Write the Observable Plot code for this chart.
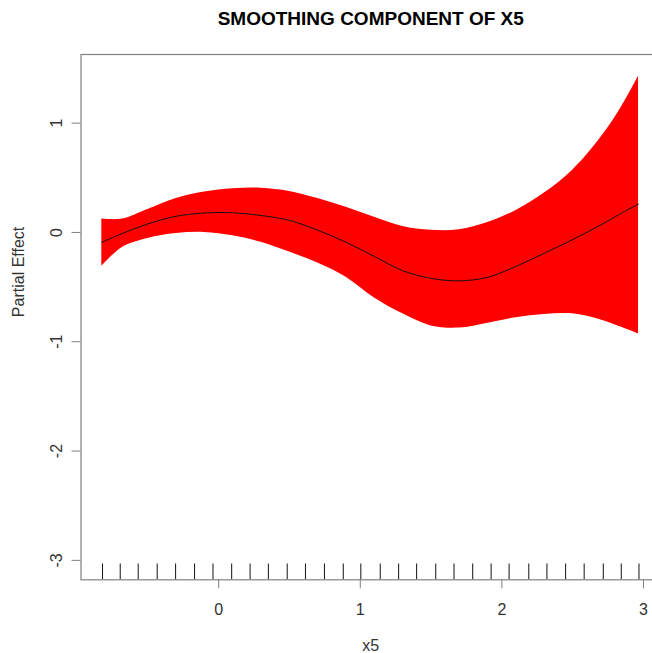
<!DOCTYPE html>
<html>
<head>
<meta charset="utf-8">
<script src="https://cdn.jsdelivr.net/npm/d3@7"></script>
<script src="https://cdn.jsdelivr.net/npm/@observablehq/plot@0.6"></script>
<style>
  html, body { margin: 0; padding: 0; background: white; overflow: hidden; }
  #chart { width: 652px; height: 653px; overflow: hidden; position: relative; }
  #chart svg { display: block; max-width: none !important; width: 660px !important; height: 653px !important; }
</style>
</head>
<body>
<div id="chart"></div>
<script>
const title = "SMOOTHING COMPONENT OF X5";
const xLabel = "x5";
const yLabel = "Partial Effect";

const xs    = [-0.825, -0.68, -0.5, -0.3, -0.1, 0.1, 0.3, 0.5, 0.7, 0.9, 1.1, 1.3, 1.5, 1.7, 1.9, 2.1, 2.3, 2.5, 2.7, 2.85, 2.965];
const fit   = [-0.09, -0.01, 0.078, 0.148, 0.178, 0.18, 0.155, 0.11, 0.02, -0.09, -0.22, -0.35, -0.42, -0.443, -0.41, -0.31, -0.19, -0.065, 0.07, 0.18, 0.26];
const upper = [0.122, 0.122, 0.21, 0.31, 0.37, 0.4, 0.405, 0.375, 0.31, 0.23, 0.14, 0.055, 0.02, 0.025, 0.09, 0.2, 0.36, 0.57, 0.87, 1.16, 1.43];
const lower = [-0.31, -0.137, -0.055, -0.01, 0.0, -0.03, -0.09, -0.18, -0.28, -0.41, -0.6, -0.745, -0.855, -0.875, -0.83, -0.78, -0.75, -0.745, -0.8, -0.87, -0.93];

const rug = [-0.820, -0.695, -0.568, -0.434, -0.304, -0.170, -0.040, 0.092, 0.222, 0.351, 0.484, 0.613, 0.747, 0.880, 1.004, 1.141, 1.271, 1.398, 1.533, 1.662, 1.794, 1.924, 2.051, 2.190, 2.318, 2.450, 2.581, 2.716, 2.843, 2.968];

const xTicks = [0, 1, 2, 3];
const yTicks = [-3, -2, -1, 0, 1];
const xDomain = [-0.972, 3.12];
const yDomain = [-3.178, 1.628];

const band = xs.map((x, i) => ({x, fit: fit[i], lo: lower[i], hi: upper[i]}));
const fmt = d => String(d);

const chart = Plot.plot({
  width: 660,
  height: 653,
  marginLeft: 80.5,
  marginRight: 0,
  marginTop: 54,
  marginBottom: 73.7,
  x: {domain: xDomain},
  y: {domain: yDomain},
  style: {fontFamily: "'Liberation Sans', Arial, sans-serif", fontSize: "16px", background: "white", color: "#222"},
  marks: [
    Plot.areaY(band, {x: "x", y1: "lo", y2: "hi", fill: "#ff0000", curve: "catmull-rom"}),
    Plot.lineY(band, {x: "x", y: "fit", stroke: "#111", strokeWidth: 1, curve: "catmull-rom"}),
    Plot.tickX(rug, {x: d => d, stroke: "#111", strokeWidth: 1, insetTop: 509.5}),
    Plot.frame({stroke: "#808080", strokeWidth: 1.2}),
    Plot.axisY(yTicks, {tickRotate: -90, tickSize: 9, tickPadding: 10, stroke: "#808080", color: "#333", fontSize: 16, tickFormat: fmt, label: null}),
    Plot.axisX(xTicks, {tickSize: 9, tickPadding: 15, stroke: "#808080", color: "#333", fontSize: 16, tickFormat: fmt, label: null}),
    Plot.text([xLabel], {frameAnchor: "bottom", dy: 71, fontSize: 16, fill: "#333", lineAnchor: "bottom"}),
    Plot.text([yLabel], {frameAnchor: "left", dx: -62, rotate: -90, fontSize: 16, fill: "#333", lineAnchor: "middle"}),
    Plot.text([title], {frameAnchor: "top", dy: -36, fontSize: 19, fontWeight: "bold", fill: "#000", lineAnchor: "middle"})
  ]
});
document.getElementById("chart").appendChild(chart);
</script>
</body>
</html>
